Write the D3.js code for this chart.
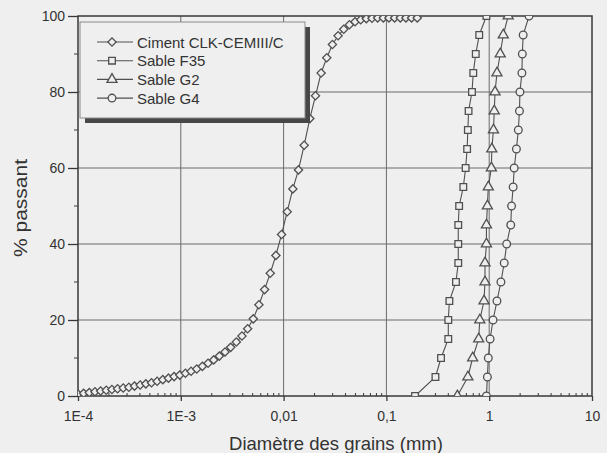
<!DOCTYPE html>
<html>
<head>
<meta charset="utf-8">
<script src="https://cdn.jsdelivr.net/npm/d3@7"></script>
<style>
  html, body { margin: 0; padding: 0; background: #efefef; }
  svg { display: block; }
  text { font-family: "Liberation Sans", Arial, sans-serif; fill: #333; }
</style>
</head>
<body>
<svg id="chart" width="607" height="453"></svg>
<script>
// ---------------- DATA ----------------
const seriesNames = ["Ciment CLK-CEMIII/C", "Sable F35", "Sable G2", "Sable G4"];
const xTickValues = [1e-4, 1e-3, 1e-2, 1e-1, 1, 10];
const xTickLabels = ["1E-4", "1E-3", "0,01", "0,1", "1", "10"];
const yTickValues = [0, 20, 40, 60, 80, 100];

// Ciment: diameter (mm) and % passing
const cimentD = [0.000100, 0.0001135, 0.0001288, 0.0001462, 0.0001660, 0.0001884, 0.0002138, 0.0002427,
  0.0002754, 0.0003126, 0.0003548, 0.0004027, 0.0004571, 0.0005188, 0.0005888, 0.0006683, 0.0007586,
  0.0008610, 0.0009772, 0.001109, 0.001259, 0.001429, 0.001622, 0.001841, 0.002089, 0.002371, 0.002692,
  0.003055, 0.003467, 0.003936, 0.004467, 0.005070, 0.005754, 0.006531, 0.007413, 0.008414, 0.009550,
  0.01084, 0.01230, 0.01396, 0.01585, 0.01799, 0.02042, 0.02317, 0.02630, 0.02985, 0.03388, 0.03846,
  0.04365, 0.04955, 0.05623, 0.06383, 0.07244, 0.08222, 0.09333, 0.1059, 0.1202, 0.1365, 0.1549, 0.1758, 0.1995];
const cimentP = [0.5, 0.7, 0.9, 1.1, 1.3, 1.5, 1.7, 1.9, 2.1, 2.3, 2.6, 2.9, 3.2, 3.5, 3.9, 4.3, 4.7,
  5.1, 5.5, 6.0, 6.5, 7.1, 7.8, 8.6, 9.5, 10.5, 11.6, 12.8, 14.2, 15.8, 17.7, 20.3, 24.0, 28.0, 32.3,
  37.0, 42.5, 48.5, 54.5, 59.5, 66, 73, 79, 85, 89, 92.5, 94.8, 96.5, 97.7, 98.5, 99.0, 99.3, 99.4,
  99.5, 99.5, 99.5, 99.5, 99.5, 99.5, 99.5, 99.5];

// Sables: % passing in 5 % steps (100 -> 0) and diameters
const sableP = [100, 95, 90, 85, 80, 75, 70, 65, 60, 55, 50, 45, 40, 35, 30, 25, 20, 15, 10, 5, 0];
const f35D = [0.94, 0.80, 0.74, 0.70, 0.68, 0.63, 0.62, 0.61, 0.59, 0.56, 0.51, 0.50, 0.50, 0.50,
  0.475, 0.41, 0.40, 0.40, 0.34, 0.30, 0.19];
const g2D = [1.53, 1.37, 1.28, 1.19, 1.14, 1.12, 1.10, 1.06, 1.05, 0.98, 0.96, 0.94, 0.94, 0.91,
  0.91, 0.89, 0.81, 0.79, 0.69, 0.62, 0.49];
const g4D = [2.44, 2.14, 2.10, 2.08, 1.99, 1.97, 1.92, 1.84, 1.75, 1.71, 1.65, 1.62, 1.48, 1.40,
  1.30, 1.19, 1.09, 1.02, 0.98, 0.96, 0.94];

// ---------------- LAYOUT ----------------
const svg = d3.select("#chart");
const X0 = 78, X1 = 592, Y0 = 396, Y1 = 16;
const ink = "#383838", grid = "#6a6a6a", markStroke = "#505050", bg = "#efefef";

const x = d3.scaleLog().domain([1e-4, 10]).range([X0, X1]);
const y = d3.scaleLinear().domain([0, 100]).range([Y0, Y1]);

svg.append("rect").attr("width", 607).attr("height", 453).attr("fill", bg);

// gridlines
const gGrid = svg.append("g");
gGrid.selectAll("line.v").data(xTickValues.slice(1, -1)).enter().append("line")
  .attr("x1", d => x(d)).attr("x2", d => x(d)).attr("y1", Y0).attr("y2", Y1)
  .attr("stroke", grid).attr("stroke-width", 1);
gGrid.selectAll("line.h").data(yTickValues.slice(1, -1)).enter().append("line")
  .attr("y1", d => y(d)).attr("y2", d => y(d)).attr("x1", X0).attr("x2", X1)
  .attr("stroke", grid).attr("stroke-width", 1);

// frame
svg.append("rect").attr("x", X0).attr("y", Y1).attr("width", X1 - X0).attr("height", Y0 - Y1)
  .attr("fill", "none").attr("stroke", ink).attr("stroke-width", 1.5);

// x axis
const xAxis = d3.axisBottom(x).tickValues(xTickValues)
  .tickFormat((d, i) => xTickLabels[i]).tickSize(5).tickPadding(10);
const gx = svg.append("g").attr("transform", `translate(0,${Y0})`).call(xAxis);
gx.select(".domain").remove();
gx.selectAll(".tick line").attr("stroke", ink).attr("stroke-width", 1.3);
gx.selectAll(".tick text").attr("font-size", 14).attr("fill", "#333")
  .style("font-family", "'Liberation Sans', Arial, sans-serif");

// x minor ticks (inward)
const minor = [];
for (let dec = -4; dec < 1; dec++) for (let m = 2; m <= 9; m++) minor.push(m * Math.pow(10, dec));
svg.append("g").selectAll("line").data(minor).enter().append("line")
  .attr("x1", d => x(d)).attr("x2", d => x(d)).attr("y1", Y0).attr("y2", Y0 - 3)
  .attr("stroke", ink).attr("stroke-width", 1);

// y axis
const yAxis = d3.axisLeft(y).tickValues(yTickValues).tickSize(10).tickPadding(3);
const gy = svg.append("g").attr("transform", `translate(${X0},0)`).call(yAxis);
gy.select(".domain").remove();
gy.selectAll(".tick line").attr("stroke", ink).attr("stroke-width", 1.3);
gy.selectAll(".tick text").attr("font-size", 14).attr("fill", "#333")
  .style("font-family", "'Liberation Sans', Arial, sans-serif");
svg.append("g").selectAll("line").data([10, 30, 50, 70, 90]).enter().append("line")
  .attr("x1", X0).attr("x2", X0 - 4).attr("y1", d => y(d)).attr("y2", d => y(d))
  .attr("stroke", ink).attr("stroke-width", 1);

// axis titles
svg.append("text").attr("x", 336).attr("y", 450).attr("text-anchor", "middle")
  .attr("font-size", 18.5).text("Diamètre des grains (mm)");
svg.append("text").attr("transform", `translate(27,208) rotate(-90)`)
  .attr("text-anchor", "middle").attr("font-size", 18)
  .attr("textLength", 98).attr("lengthAdjust", "spacingAndGlyphs").text("% passant");

// ---------------- SERIES ----------------
const series = [
  { name: seriesNames[0], d: cimentD, p: cimentP, sym: d3.symbolSquare, size: 34, rot: 45 },
  { name: seriesNames[1], d: f35D, p: sableP, sym: d3.symbolSquare, size: 44, rot: 0 },
  { name: seriesNames[2], d: g2D, p: sableP, sym: d3.symbolTriangle, size: 44, rot: 0 },
  { name: seriesNames[3], d: g4D, p: sableP, sym: d3.symbolCircle, size: 46, rot: 0 }
];

svg.append("defs").append("clipPath").attr("id", "plotclip")
  .append("rect").attr("x", X0).attr("y", Y1).attr("width", X1 - X0).attr("height", Y0 - Y1);

const line = d3.line().x(d => x(d[0])).y(d => y(d[1]));
const gS = svg.append("g").attr("clip-path", "url(#plotclip)");
series.forEach(s => {
  const pts = s.d.map((v, i) => [v, s.p[i]]);
  gS.append("path").datum(pts).attr("d", line).attr("fill", "none")
    .attr("stroke", markStroke).attr("stroke-width", 1.1);
  gS.append("g").selectAll("path").data(pts).enter().append("path")
    .attr("d", d3.symbol().type(s.sym).size(s.size))
    .attr("transform", d => `translate(${x(d[0])},${y(d[1])}) rotate(${s.rot})`)
    .attr("fill", bg).attr("stroke", markStroke).attr("stroke-width", 1.3);
});

// ---------------- LEGEND ----------------
const lg = svg.append("g");
lg.append("rect").attr("x", 85).attr("y", 27).attr("width", 225).attr("height", 96).attr("fill", "#474747");
lg.append("rect").attr("x", 80).attr("y", 22).attr("width", 225).attr("height", 96)
  .attr("fill", bg).attr("stroke", "#8a8a8a").attr("stroke-width", 1);
series.forEach((s, i) => {
  const yy = 42 + i * 18.7;
  lg.append("line").attr("x1", 97).attr("x2", 133).attr("y1", yy).attr("y2", yy)
    .attr("stroke", markStroke).attr("stroke-width", 1.1);
  lg.append("path").attr("d", d3.symbol().type(s.sym).size(s.size)())
    .attr("transform", `translate(112,${yy}) rotate(${s.rot})`).attr("fill", bg)
    .attr("stroke", markStroke).attr("stroke-width", 1.3);
  lg.append("text").attr("x", 137).attr("y", yy + 5.5).attr("font-size", 15).text(s.name);
});
</script>
</body>
</html>
